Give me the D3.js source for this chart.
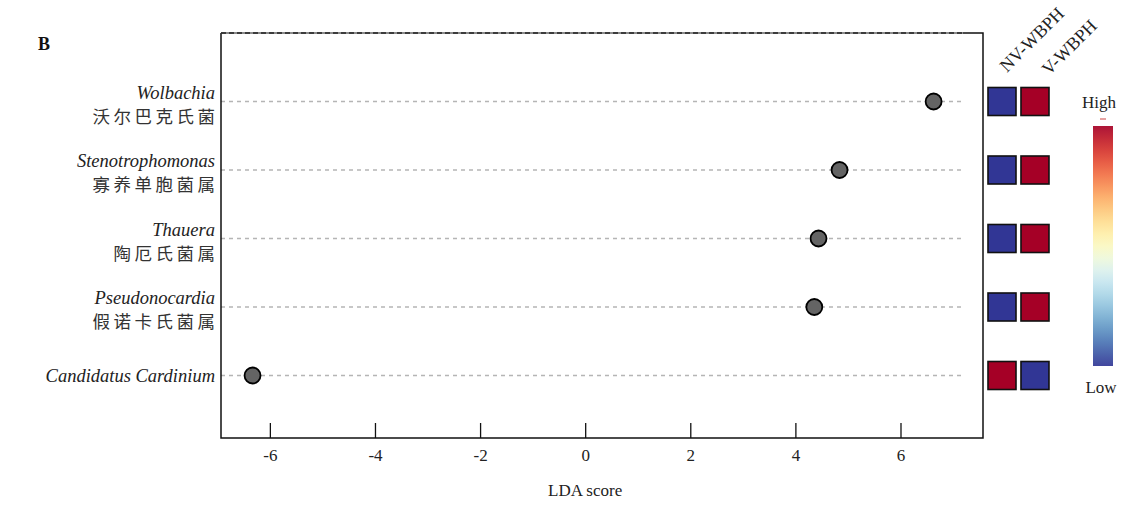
<!DOCTYPE html>
<html><head><meta charset="utf-8">
<script src="https://cdn.jsdelivr.net/npm/d3@7"></script>
<style>body{margin:0;background:#fff}</style>
</head><body><svg id="c" width="1129" height="506"></svg>
<script>
const genera = ["Wolbachia","Stenotrophomonas","Thauera","Pseudonocardia","Candidatus Cardinium"];
const chinese = ["沃尔巴克氏菌","寡养单胞菌属","陶厄氏菌属","假诺卡氏菌属",""];
const ldaScores = [6.63, 4.84, 4.44, 4.36, -6.33];
const groups = ["NV-WBPH","V-WBPH"];
const nvLevel = [0,0,0,0,1];
const vLevel = [1,1,1,1,0];
const xTicks = [-6,-4,-2,0,2,4,6];

const svg = d3.select("#c");
const serif = "'Liberation Serif','DejaVu Serif',serif";
const cjk = "'Noto Sans CJK SC',sans-serif";
const L=221, R=983, T=33, B=438;
const x = d3.scaleLinear().domain([-6.93,7.57]).range([L,R]);
const y = d3.scalePoint().domain(["_top"].concat(genera)).range([T, 375.5]);
const gridEnd = x(7.18);

// gridlines
svg.append("g").selectAll("line").data(genera).join("line")
  .attr("x1",L).attr("x2",gridEnd).attr("y1",d=>y(d)).attr("y2",d=>y(d))
  .attr("stroke","#b5b5b5").attr("stroke-width",1.3).attr("stroke-dasharray","4,4");

// frame
svg.append("path").attr("d",`M${L},${T}V${B}H${R}V${T}H${gridEnd}`).attr("fill","none").attr("stroke","#111").attr("stroke-width",1.5);
svg.append("line").attr("x1",L).attr("x2",gridEnd).attr("y1",T).attr("y2",T).attr("stroke","#666").attr("stroke-width",1.5);
svg.append("line").attr("x1",L).attr("x2",gridEnd).attr("y1",T).attr("y2",T).attr("stroke","#222").attr("stroke-width",1.5).attr("stroke-dasharray","5,3");

// x axis
const ax = svg.append("g").attr("transform",`translate(0,${B})`)
  .call(d3.axisBottom(x).tickValues(xTicks).tickSize(-15).tickPadding(20).tickFormat(d=>String(d)));
ax.select(".domain").remove();
ax.selectAll(".tick line").attr("stroke","#111").attr("stroke-width",1.3);
ax.selectAll(".tick text").attr("font-family",serif).attr("font-size",17).attr("fill","#222").attr("dy","0.2em");
svg.append("text").attr("x",x(0)).attr("y",496).attr("text-anchor","middle")
  .attr("font-family",serif).attr("font-size",17).attr("fill","#222").text("LDA score");

// points
svg.append("g").selectAll("circle").data(genera).join("circle")
  .attr("cx",(d,i)=>x(ldaScores[i])).attr("cy",d=>y(d)).attr("r",8)
  .attr("fill","#646464").attr("stroke","#000").attr("stroke-width",1.8);

// y labels
genera.forEach((g,i)=>{
  const cy=y(g);
  if(chinese[i]){
    svg.append("text").attr("x",215).attr("y",cy-3).attr("text-anchor","end")
      .attr("font-family",serif).attr("font-style","italic").attr("font-size",18.5).attr("fill","#222").text(g);
    svg.append("text").attr("x",218.5).attr("y",cy+21).attr("text-anchor","end")
      .attr("font-family",cjk).attr("font-size",17.5).attr("letter-spacing",3.5).attr("fill","#333").text(chinese[i]);
  } else {
    svg.append("text").attr("x",215).attr("y",cy+6).attr("text-anchor","end")
      .attr("font-family",serif).attr("font-style","italic").attr("font-size",18.5).attr("fill","#222").text(g);
  }
});

// heatmap
const col = d3.scaleBand().domain(groups).range([986,1050]).paddingInner(0.06);
const colors = v=> v? "#a50026":"#313695";
const hm = svg.append("g");
genera.forEach((g,i)=>{
  [nvLevel[i],vLevel[i]].forEach((v,j)=>{
    hm.append("rect").attr("x",col(groups[j])+2).attr("y",y(g)-14).attr("width",28).attr("height",28)
      .attr("fill",colors(v)).attr("stroke","#111").attr("stroke-width",1.6);
  });
});
const labelPos = [[1007,73],[1049,76]];
groups.forEach((gn,j)=>{
  svg.append("text").attr("transform",`translate(${labelPos[j][0]},${labelPos[j][1]}) rotate(-45)`)
    .attr("font-family",serif).attr("font-size",18).attr("fill","#222").text(gn);
});

// colorbar
const defs = svg.append("defs");
const grad = defs.append("linearGradient").attr("id","cb").attr("x1",0).attr("x2",0).attr("y1",0).attr("y2",1);
d3.range(0,1.001,0.05).forEach(t=>grad.append("stop").attr("offset",t).attr("stop-color",d3.interpolateRdYlBu(t)));
svg.append("rect").attr("x",1093).attr("y",126).attr("width",20).attr("height",240).attr("fill","url(#cb)").attr("opacity",0.92);
svg.append("line").attr("x1",1100).attr("x2",1106).attr("y1",119).attr("y2",119).attr("stroke","#c44").attr("stroke-width",1);
svg.append("text").attr("x",1099).attr("y",108).attr("text-anchor","middle").attr("font-family",serif).attr("font-size",17).attr("fill","#222").text("High");
svg.append("text").attr("x",1101).attr("y",393).attr("text-anchor","middle").attr("font-family",serif).attr("font-size",17).attr("fill","#222").text("Low");

svg.append("text").attr("x",38).attr("y",50).attr("font-family",serif).attr("font-weight","bold").attr("font-size",18).attr("fill","#111").text("B");
</script></body></html>
